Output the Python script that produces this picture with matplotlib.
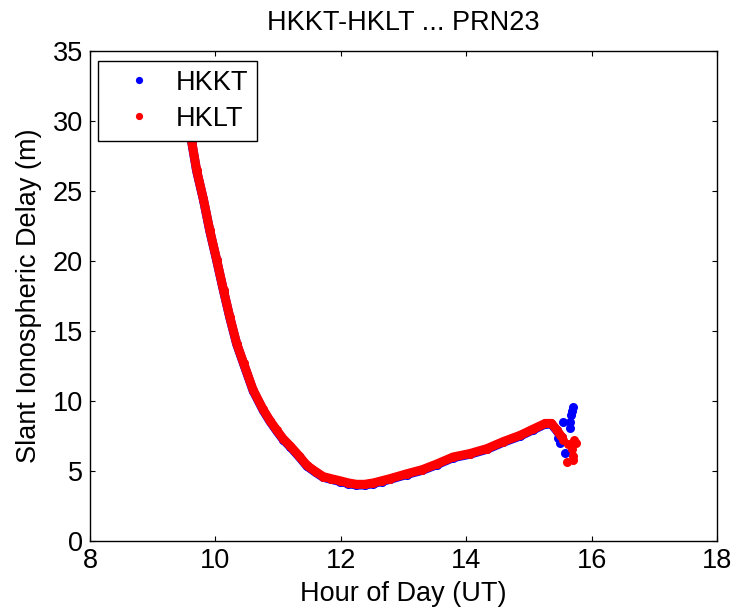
import matplotlib.pyplot as plt

plt.rcParams['font.family'] = ['Liberation Sans', 'DejaVu Sans']

# hour of day (UT) and slant delay (m)
hour = [9.45, 9.53, 9.62, 9.70, 9.81, 9.91, 10.02, 10.13, 10.23, 10.34,
        10.45, 10.60, 10.76, 10.87, 10.98, 11.08, 11.19, 11.33, 11.46, 11.60,
        11.72, 11.85, 11.99, 12.12, 12.25, 12.38, 12.52, 12.65, 12.78, 13.05,
        13.30, 13.53, 13.79, 14.06, 14.33, 14.59, 14.86, 15.07, 15.26, 15.36,
        15.44, 15.52]
hklt_delay = [31.5, 30.0, 28.6, 26.5, 24.4, 22.2, 20.1, 17.9, 16.0, 14.1,
              12.7, 10.8, 9.4, 8.6, 7.9, 7.3, 6.8, 6.1, 5.4, 4.95,
              4.6, 4.45, 4.3, 4.15, 4.05, 4.05, 4.15, 4.3, 4.45, 4.8,
              5.1, 5.5, 6.0, 6.25, 6.6, 7.1, 7.55, 8.0, 8.4, 8.4,
              7.95, 7.45]
hkkt_delay = [31.5, 30.0, 28.55, 26.45, 24.35, 22.15, 20.05, 17.85, 15.95, 14.05,
              12.65, 10.75, 9.35, 8.55, 7.85, 7.25, 6.75, 6.05, 5.35, 4.9,
              4.55, 4.4, 4.25, 4.1, 4.0, 4.0, 4.1, 4.25, 4.4, 4.75,
              5.05, 5.45, 5.95, 6.2, 6.55, 7.05, 7.5, 7.95, 8.35, 8.35,
              7.9, 7.4]

# the scattered points at the end of the pass
hkkt_tail_hour = [15.47, 15.50, 15.55, 15.58, 15.65, 15.65, 15.67, 15.69, 15.71]
hkkt_tail_delay = [7.33, 6.98, 8.5, 6.3, 8.5, 8.1, 9.0, 9.3, 9.55]
hklt_tail_hour = [15.55, 15.60, 15.62, 15.68, 15.70, 15.70, 15.72, 15.75]
hklt_tail_delay = [7.2, 5.65, 6.9, 6.6, 6.1, 5.8, 7.2, 7.0]

fig = plt.figure(figsize=(7.31, 6.10), dpi=100)
ax = fig.add_axes([0.1231, 0.1131, 0.8578, 0.8033])

fs = 19.5
lw = 6.5
ms = 6.5

# HKKT first, HKLT drawn on top
ax.plot(hour, hkkt_delay, '-', color='blue', lw=lw, solid_capstyle='round',
        solid_joinstyle='round')
ax.plot(hour + hkkt_tail_hour, hkkt_delay + hkkt_tail_delay, 'o', color='blue',
        ms=ms, mew=0, label='HKKT')
ax.plot(hour, hklt_delay, '-', color='red', lw=lw, solid_capstyle='round',
        solid_joinstyle='round')
ax.plot(hour + hklt_tail_hour, hklt_delay + hklt_tail_delay, 'o', color='red',
        ms=ms, mew=0, label='HKLT')

ax.set_xlim(8, 18)
ax.set_ylim(0, 35)
ax.set_xticks(range(8, 19, 2))
ax.set_yticks(range(0, 36, 5))
ax.tick_params(direction='in', length=3.6, width=0.8, top=True, right=True,
               labelsize=fs, pad=5)
for s in ax.spines.values():
    s.set_linewidth(1.0)

ax.set_title('HKKT-HKLT ... PRN23', fontsize=fs, pad=15)
ax.set_xlabel('Hour of Day (UT)', fontsize=fs, labelpad=5)
ax.set_ylabel('Slant Ionospheric Delay (m)', fontsize=fs, labelpad=8)

leg = ax.legend(loc='upper left', bbox_to_anchor=(0.0128, 0.980), borderaxespad=0,
                fontsize=fs, frameon=True, fancybox=False, framealpha=1,
                edgecolor='black', handlelength=2.35, handletextpad=0.2,
                borderpad=0.33, labelspacing=0.37, markerscale=0.8)
leg.get_frame().set_linewidth(1.0)

fig.savefig('out.png', dpi=100)
